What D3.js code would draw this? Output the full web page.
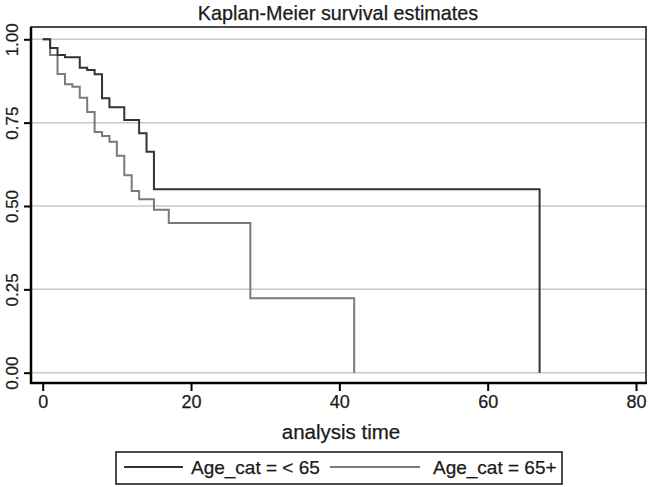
<!DOCTYPE html>
<html><head><meta charset="utf-8">
<script src="https://cdn.jsdelivr.net/npm/d3@7"></script>
<style>body{margin:0;background:#fff}svg{display:block}text{font-family:"Liberation Sans",Arial,sans-serif;fill:#1a1a1a;stroke:#1a1a1a;stroke-width:0.25px}</style>
</head><body><svg id="c" width="649" height="487"></svg>
<script>
const title = "Kaplan-Meier survival estimates";
const xLabel = "analysis time";
const xTicks = [0, 20, 40, 60, 80];
const yTicks = [0, 0.25, 0.5, 0.75, 1];
const seriesNames = ["Age_cat = < 65", "Age_cat = 65+"];
const seriesColors = ["#333333", "#7a7a7a"];
// Kaplan-Meier step points: time and survival after that time
const timesUnder65 = [0, 1, 2, 3, 5, 6, 7, 8, 9, 11, 13, 14, 15, 67];
const survUnder65 = [1, 0.974, 0.953, 0.946, 0.915, 0.908, 0.895, 0.823, 0.796, 0.758, 0.718, 0.663, 0.55, 0];
const times65plus = [0, 1, 2, 3, 4, 5, 6, 7, 8, 9, 10, 11, 12, 13, 15, 17, 28, 42];
const surv65plus = [1, 0.953, 0.896, 0.865, 0.858, 0.825, 0.782, 0.722, 0.71, 0.693, 0.651, 0.592, 0.545, 0.52, 0.489, 0.449, 0.223, 0];

const svg = d3.select("#c");
const pLeft = 31, pRight = 646, pTop = 27, pBottom = 383;
const x = d3.scaleLinear().domain([0, 80]).range([42.7, 636]);
const y = d3.scaleLinear().domain([0, 1]).range([372.7, 39.3]);

// gridlines
svg.append("g").selectAll("line").data(yTicks).join("line")
  .attr("x1", pLeft).attr("x2", pRight)
  .attr("y1", d => y(d)).attr("y2", d => y(d))
  .attr("stroke", "#c8c8c8").attr("stroke-width", 1.5);

// curves
const line = d3.line().x(d => x(d[0])).y(d => y(d[1])).curve(d3.curveStepAfter);
const s1 = timesUnder65.map((t, i) => [t, survUnder65[i]]);
const s2 = times65plus.map((t, i) => [t, surv65plus[i]]);
svg.append("path").attr("d", line(s2)).attr("fill", "none").attr("stroke", seriesColors[1]).attr("stroke-width", 2);
svg.append("path").attr("d", line(s1)).attr("fill", "none").attr("stroke", seriesColors[0]).attr("stroke-width", 2);

// frame
svg.append("rect").attr("x", pLeft).attr("y", pTop).attr("width", pRight - pLeft).attr("height", pBottom - pTop)
  .attr("fill", "none").attr("stroke", "#111").attr("stroke-width", 1.5);
svg.append("line").attr("x1", pLeft).attr("x2", pLeft).attr("y1", pTop).attr("y2", pBottom + 1).attr("stroke", "#000").attr("stroke-width", 2.5);
svg.append("line").attr("x1", pLeft - 1).attr("x2", pRight + 1).attr("y1", pBottom).attr("y2", pBottom).attr("stroke", "#000").attr("stroke-width", 2.5);

// x axis
const xa = svg.append("g").attr("transform", `translate(0,${pBottom})`)
  .call(d3.axisBottom(x).tickValues(xTicks).tickSize(8).tickPadding(4).tickFormat(d3.format("d")));
xa.select(".domain").remove();
xa.selectAll("line").attr("stroke", "#000").attr("stroke-width", 2);
xa.selectAll("text").attr("font-size", 18).attr("fill", "#1a1a1a").attr("font-family", "Liberation Sans, Arial, sans-serif");

// y axis
const ya = svg.append("g").attr("transform", `translate(${pLeft},0)`)
  .call(d3.axisLeft(y).tickValues(yTicks).tickSize(7).tickFormat(d3.format(".2f")));
ya.select(".domain").remove();
ya.selectAll("line").attr("stroke", "#000").attr("stroke-width", 2);
ya.selectAll("text").attr("font-size", 17).attr("fill", "#1a1a1a").attr("font-family", "Liberation Sans, Arial, sans-serif")
  .attr("text-anchor", "middle").attr("dy", null).attr("x", null)
  .attr("transform", "translate(-17,0) rotate(-90)").attr("dominant-baseline", "middle");

// title and axis label
svg.append("text").attr("x", 338).attr("y", 20).attr("text-anchor", "middle").attr("font-size", 19.8).text(title);
svg.append("text").attr("x", 341).attr("y", 439).attr("text-anchor", "middle").attr("font-size", 20.5).text(xLabel);

// legend
const lg = svg.append("g");
lg.append("rect").attr("x", 116).attr("y", 452).attr("width", 446).attr("height", 32)
  .attr("fill", "#fff").attr("stroke", "#111").attr("stroke-width", 1.5);
const legendItems = [
  {name: seriesNames[0], color: seriesColors[0], x1: 124, x2: 183, tx: 191},
  {name: seriesNames[1], color: seriesColors[1], x1: 330, x2: 420, tx: 433}
];
legendItems.forEach(it => {
  lg.append("line").attr("x1", it.x1).attr("x2", it.x2).attr("y1", 467).attr("y2", 467)
    .attr("stroke", it.color).attr("stroke-width", 2);
  lg.append("text").attr("x", it.tx).attr("y", 474).attr("font-size", 19).text(it.name);
});
</script></body></html>
